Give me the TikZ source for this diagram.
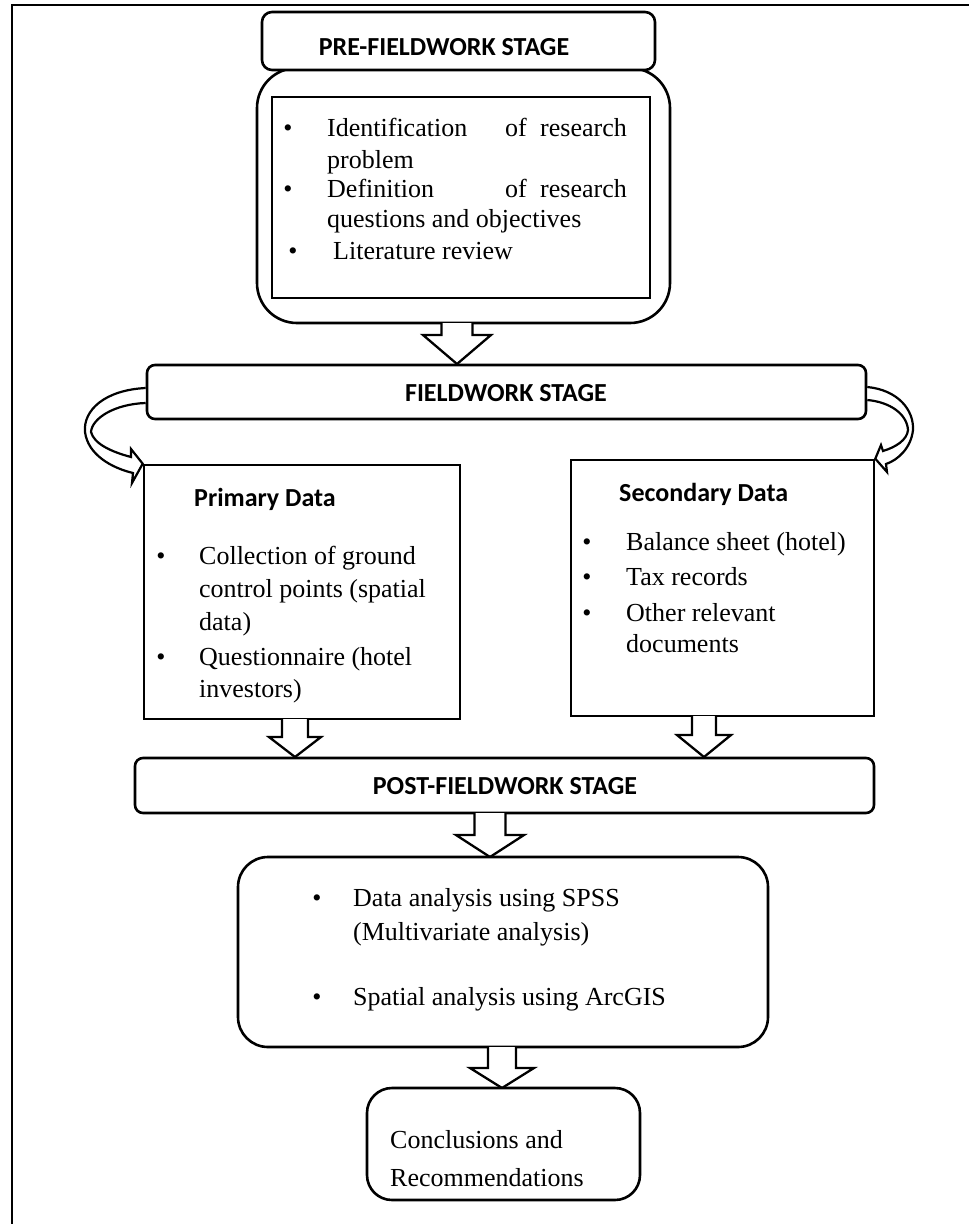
\documentclass[tikz,border=0pt]{standalone}
\usepackage{fontspec}
\setmainfont{Liberation Serif}
\newfontfamily\hdfont{Carlito}
\begin{document}
\tikzset{
  bx/.style={draw, line width=2.6pt, fill=white, inner sep=0pt},
  tx/.style={anchor=base west, inner sep=0pt, font=\fontsize{26}{31}\selectfont},
  bul/.style={anchor=base, inner sep=0pt, font=\fontsize{26}{31}\selectfont},
  hd/.style={anchor=base, inner sep=0pt, font=\hdfont\bfseries\fontsize{26}{31}\selectfont},
  arr/.style={draw, line width=2.3pt, fill=white, line join=miter},
}
\newcommand{\hollowarr}[6]{% cx, ytop, yhead, ytip, shaft half width, head half width
  \draw[arr] ({#1-#5},#2) -- ({#1-#5},#3) -- ({#1-#6},#3) -- (#1,#4) -- ({#1+#6},#3) -- ({#1+#5},#3) -- ({#1+#5},#2);}
\begin{tikzpicture}[x=1pt,y=-1pt]
\useasboundingbox (0,0) rectangle (969,1224);
% outer frame
\draw[line width=2pt] (12,1230) -- (12,5) -- (975,5);

% PRE-FIELDWORK
\node[bx, rounded corners=40, minimum width=413pt, minimum height=255pt] (cont) at (463.5,195.5) {};
\node[bx, rounded corners=10, minimum width=393pt, minimum height=58pt] (pre) at (458.5,41) {};
\node[hd] (pret) at (444,55) {PRE-FIELDWORK STAGE};
\node[bx, minimum width=378pt, minimum height=201pt] (inner) at (461,197.5) {};
\node[bul] (b1) at (288,136) {•};
\node[tx] (p1a) at (327,136) {Identification};
\node[bul] (p1b) at (516,136) {of};
\node[tx, anchor=base east] (p1c) at (627,136) {research};
\node[tx] (p2) at (327,168) {problem};
\node[bul] (b2) at (288,197) {•};
\node[tx] (p3a) at (327,197) {Definition};
\node[bul] (p3b) at (516,197) {of};
\node[tx, anchor=base east] (p3c) at (627,197) {research};
\node[tx] (p4) at (327,227) {questions and objectives};
\node[bul] (b3) at (293,259) {•};
\node[tx] (p5) at (333,259) {Literature review};

% arrow pre -> fieldwork
\hollowarr{457}{323}{335}{364}{15.5}{34}

% FIELDWORK
\node[bx, rounded corners=8, minimum width=719pt, minimum height=54pt] (field) at (506.5,392) {};
\node[hd] (fieldt) at (506,401) {FIELDWORK STAGE};

% PRIMARY
\node[bx, minimum width=316pt, minimum height=254pt] (prim) at (302,592) {};
\node[hd, anchor=base west] (primt) at (194,506) {Primary Data};
\node[bul] (pb1) at (161,564) {•};
\node[tx] (pr1) at (199,564) {Collection of ground};
\node[tx] (pr2) at (199,597) {control points (spatial};
\node[tx] (pr3) at (199,630) {data)};
\node[bul] (pb2) at (161,665) {•};
\node[tx] (pr4) at (199,665) {Questionnaire (hotel};
\node[tx] (pr5) at (199,697) {investors)};

% SECONDARY
\node[bx, minimum width=303pt, minimum height=256pt] (sec) at (722.5,588) {};
\node[hd, anchor=base west] (sect) at (619,501) {Secondary Data};
\node[bul] (sb1) at (587,550) {•};
\node[tx] (s1) at (626,550) {Balance sheet (hotel)};
\node[bul] (sb2) at (587,585) {•};
\node[tx] (s2) at (626,585) {Tax records};
\node[bul] (sb3) at (587,621) {•};
\node[tx] (s3) at (626,621) {Other relevant};
\node[tx] (s4) at (626,652) {documents};

% curved arrows
\draw[arr, line width=2.2pt] ([yshift=4pt]field.west) .. controls (105,390) and (83,410) .. (85,432)
  .. controls (88,455) and (112,468) .. (133,473) -- (132,483) -- (prim.north west) -- (131,449) -- (131,457)
  .. controls (112,452) and (94,444) .. (91,432) .. controls (92,418) and (115,404) .. ([yshift=-11pt]field.west);
\draw[arr, line width=2.2pt] ([yshift=5pt]field.east) .. controls (898,390) and (914,410) .. (913,430)
  .. controls (911,448) and (898,460) .. (886,464) -- (887,472) -- (sec.north east) -- (881,445) -- (883,451)
  .. controls (896,447) and (907,440) .. (908,430) .. controls (907,414) and (890,402) .. ([yshift=-8pt]field.east);

% arrows to post
\hollowarr{295}{719}{737}{757}{13}{26}
\hollowarr{704}{716}{735}{757}{12}{27}

% POST-FIELDWORK
\node[bx, rounded corners=8, minimum width=739pt, minimum height=55pt] (post) at (504.5,785.5) {};
\node[hd] (postt) at (505,794) {POST-FIELDWORK STAGE};

\hollowarr{490}{813}{835}{857}{15.5}{34}

% ANALYSIS
\node[bx, rounded corners=30, minimum width=530pt, minimum height=190pt] (ana) at (503,952) {};
\node[bul] (ab1) at (317,906) {•};
\node[tx] (a1) at (353,906) {Data analysis using SPSS};
\node[tx] (a2) at (353,940) {(Multivariate analysis)};
\node[bul] (ab2) at (317,1005) {•};
\node[tx] (a3) at (353,1005) {Spatial analysis using ArcGIS};

\hollowarr{502}{1047}{1068}{1088}{14}{32}

% CONCLUSIONS
\node[bx, rounded corners=25, minimum width=273pt, minimum height=112pt] (conc) at (503.5,1144) {};
\node[tx] (c1) at (390,1148) {Conclusions and};
\node[tx] (c2) at (390,1186) {Recommendations};
\end{tikzpicture}
\end{document}
